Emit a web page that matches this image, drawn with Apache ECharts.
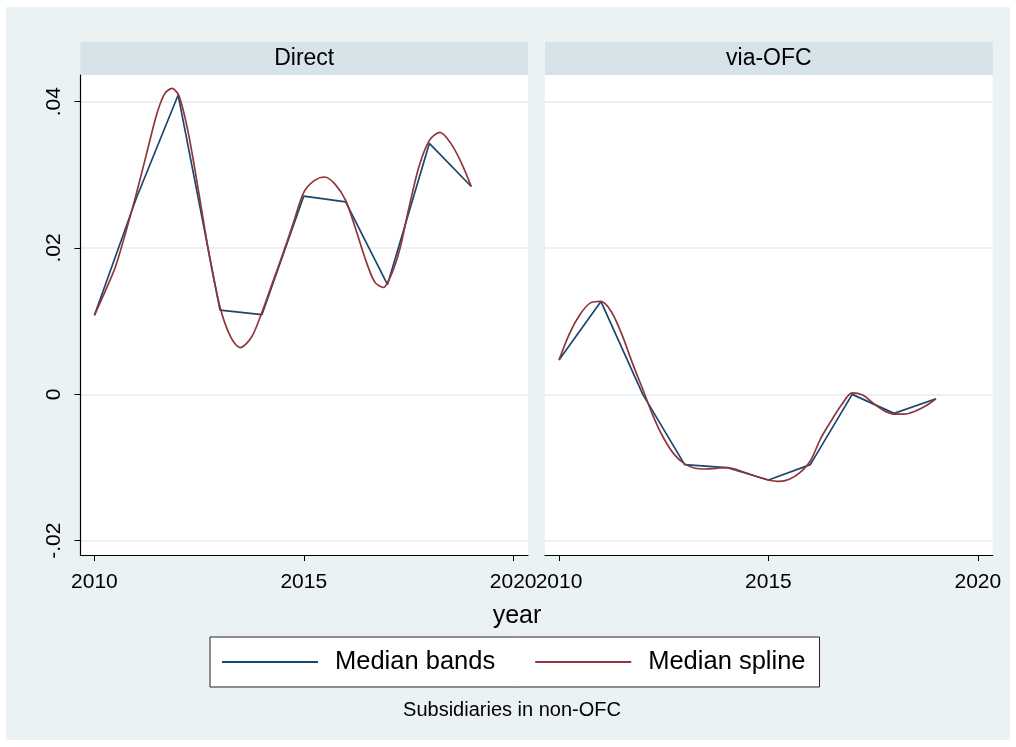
<!DOCTYPE html>
<html>
<head>
<meta charset="utf-8">
<script src="https://cdn.jsdelivr.net/npm/echarts@6/dist/echarts.min.js"></script>
<style>html,body{margin:0;padding:0;background:#fff}#c{width:1016px;height:747px}</style>
</head>
<body>
<div id="c"></div>
<script>
// ---- data ----
const panelTitles = ['Direct', 'via-OFC'];
const bandYears = [2010, 2011, 2012, 2013, 2014, 2015, 2016, 2017, 2018, 2019];
const directBands = [0.0108, 0.0268, 0.0409, 0.0115, 0.0109, 0.0271, 0.0263, 0.0150, 0.0343, 0.0284];
const ofcBands = [0.0047, 0.0127, 0.0000, -0.0096, -0.0100, -0.0117, -0.0096, 0.0000, -0.0026, -0.0006];

const directSplineYears = [2010.00, 2010.25, 2010.50, 2010.75, 2011.00, 2011.25, 2011.50, 2011.68, 2011.85, 2012.02, 2012.25, 2012.50, 2012.75, 2013.00, 2013.25, 2013.48, 2013.75, 2014.00, 2014.25, 2014.50, 2014.75, 2015.00, 2015.25, 2015.50, 2015.75, 2016.00, 2016.25, 2016.50, 2016.70, 2016.90, 2017.10, 2017.30, 2017.50, 2017.75, 2018.00, 2018.25, 2018.50, 2018.75, 2019.00];
const directSpline = [0.0108, 0.0140, 0.0174, 0.0222, 0.0274, 0.0330, 0.0385, 0.0411, 0.0418, 0.0408, 0.0355, 0.0273, 0.0188, 0.0119, 0.0079, 0.0064, 0.0078, 0.0112, 0.0152, 0.0192, 0.0234, 0.0276, 0.0292, 0.0297, 0.0287, 0.0265, 0.0224, 0.0180, 0.0153, 0.0146, 0.0165, 0.0200, 0.0252, 0.0311, 0.0347, 0.0358, 0.0344, 0.0318, 0.0284];

const ofcSplineYears = [2010.00, 2010.25, 2010.50, 2010.75, 2011.00, 2011.25, 2011.50, 2011.75, 2012.00, 2012.25, 2012.50, 2012.75, 2013.00, 2013.25, 2013.50, 2013.75, 2014.00, 2014.25, 2014.50, 2014.75, 2015.00, 2015.25, 2015.50, 2015.75, 2016.00, 2016.25, 2016.50, 2016.75, 2017.00, 2017.25, 2017.50, 2017.75, 2018.00, 2018.25, 2018.50, 2018.75, 2019.00];
const ofcSpline = [0.0047, 0.0083, 0.0109, 0.0125, 0.0127, 0.0113, 0.0082, 0.0043, 0.0007, -0.0030, -0.0060, -0.0082, -0.0095, -0.0101, -0.0102, -0.0101, -0.0100, -0.0103, -0.0108, -0.0113, -0.0117, -0.0119, -0.0116, -0.0107, -0.0091, -0.0060, -0.0036, -0.0014, 0.0002, -0.0001, -0.0012, -0.0022, -0.0027, -0.0027, -0.0023, -0.0016, -0.0006];

const xTickValues = [2010, 2015, 2020];
const xTickLabels = ['2010', '2015', '2020'];
const yTickValues = [-0.02, 0, 0.02, 0.04];
const yTickLabels = ['-.02', '0', '.02', '.04'];
const legendNames = ['Median bands', 'Median spline'];
const xTitle = 'year';
const noteText = 'Subsidiaries in non-OFC';

// ---- styling ----
const FONT = '"Liberation Sans", Arial, sans-serif';
const BLUE = '#1a476f', RED = '#90353b';
const BG = '#eaf2f3', STRIP = '#d6e3e9', GRID = '#e2ecef';
const X_MIN = 2009.665, X_MAX = 2020.355, Y_MIN = -0.02195, Y_MAX = 0.04364;

const zip = (xs, ys) => xs.map((x, i) => [x, ys[i]]);

const chart = echarts.init(document.getElementById('c'), null, {renderer: 'canvas'});

function xAxis(gi) {
  return {
    type: 'value', gridIndex: gi, min: X_MIN, max: X_MAX,
    axisLine: {show: true, onZero: false, lineStyle: {color: '#000', width: 1.2}},
    axisTick: {show: true, length: 6, customValues: xTickValues, lineStyle: {color: '#000', width: 1}},
    axisLabel: {show: true, customValues: xTickValues, margin: 17, fontSize: 21, color: '#000', fontFamily: FONT,
      formatter: v => xTickLabels[xTickValues.indexOf(v)] ?? ''},
    splitLine: {show: false}
  };
}
function yAxis(gi, showAxis) {
  return {
    type: 'value', gridIndex: gi, min: Y_MIN, max: Y_MAX,
    axisLine: {show: showAxis, onZero: false, lineStyle: {color: '#000', width: 1.2}},
    axisTick: {show: showAxis, length: 6, customValues: yTickValues, lineStyle: {color: '#000', width: 1}},
    axisLabel: {show: showAxis, customValues: yTickValues, rotate: 90, margin: 16, fontSize: 21, color: '#000', fontFamily: FONT,
      formatter: v => yTickLabels[yTickValues.indexOf(v)] ?? ''},
    splitLine: {show: true, lineStyle: {color: GRID, width: 1.5}}
  };
}
function line(name, gi, data, color, smooth) {
  return {
    type: 'line', name: name, xAxisIndex: gi, yAxisIndex: gi, data: data,
    showSymbol: false, symbol: 'none', smooth: smooth, animation: false,
    lineStyle: {color: color, width: 1.7}, itemStyle: {color: color}, z: smooth ? 3 : 2
  };
}

const strips = [
  {x: 80.4, w: 447.6},
  {x: 545, w: 447.7}
];

const option = {
  backgroundColor: BG,
  animation: false,
  grid: [
    {left: 80.4, top: 75, width: 447.6, height: 480, show: true, backgroundColor: '#fff', borderWidth: 0},
    {left: 545, top: 75, width: 447.7, height: 480, show: true, backgroundColor: '#fff', borderWidth: 0}
  ],
  xAxis: [xAxis(0), xAxis(1)],
  yAxis: [yAxis(0, true), yAxis(1, false)],
  legend: {
    data: legendNames, left: 210, top: 637,
    orient: 'horizontal', icon: 'rect', itemWidth: 96, itemHeight: 2, itemGap: 40,
    padding: [12, 14, 12, 12], borderColor: '#222', borderWidth: 1, backgroundColor: '#fff',
    textStyle: {fontSize: 25.5, color: '#000', fontFamily: FONT, padding: [0, 0, 0, 12]},
    selectedMode: false
  },
  series: [
    line(legendNames[0], 0, zip(bandYears, directBands), BLUE, false),
    line(legendNames[1], 0, zip(directSplineYears, directSpline), RED, 0.3),
    line(legendNames[0], 1, zip(bandYears, ofcBands), BLUE, false),
    line(legendNames[1], 1, zip(ofcSplineYears, ofcSpline), RED, 0.3)
  ],
  graphic: [
    // white outer margin
    {type: 'rect', shape: {x: 0, y: 0, width: 1016, height: 7}, style: {fill: '#fff'}, z: 100},
    {type: 'rect', shape: {x: 0, y: 740, width: 1016, height: 7}, style: {fill: '#fff'}, z: 100},
    {type: 'rect', shape: {x: 0, y: 0, width: 6, height: 747}, style: {fill: '#fff'}, z: 100},
    {type: 'rect', shape: {x: 1010, y: 0, width: 6, height: 747}, style: {fill: '#fff'}, z: 100},
    // panel header strips
    ...strips.map((s, i) => ({
      type: 'group', z: 50, children: [
        {type: 'rect', shape: {x: s.x, y: 42, width: s.w, height: 33}, style: {fill: STRIP}},
        {type: 'text', x: s.x + s.w / 2, y: 58.5, style: {text: panelTitles[i], fill: '#000', font: '23px ' + FONT, align: 'center', verticalAlign: 'middle'}}
      ]
    })),
    {type: 'text', x: 517, y: 616, z: 50, style: {text: xTitle, fill: '#000', font: '25px ' + FONT, align: 'center', verticalAlign: 'middle'}},
    {type: 'text', x: 512, y: 710, z: 50, style: {text: noteText, fill: '#000', font: '20px ' + FONT, align: 'center', verticalAlign: 'middle'}}
  ]
};
chart.setOption(option);
</script>
</body>
</html>
